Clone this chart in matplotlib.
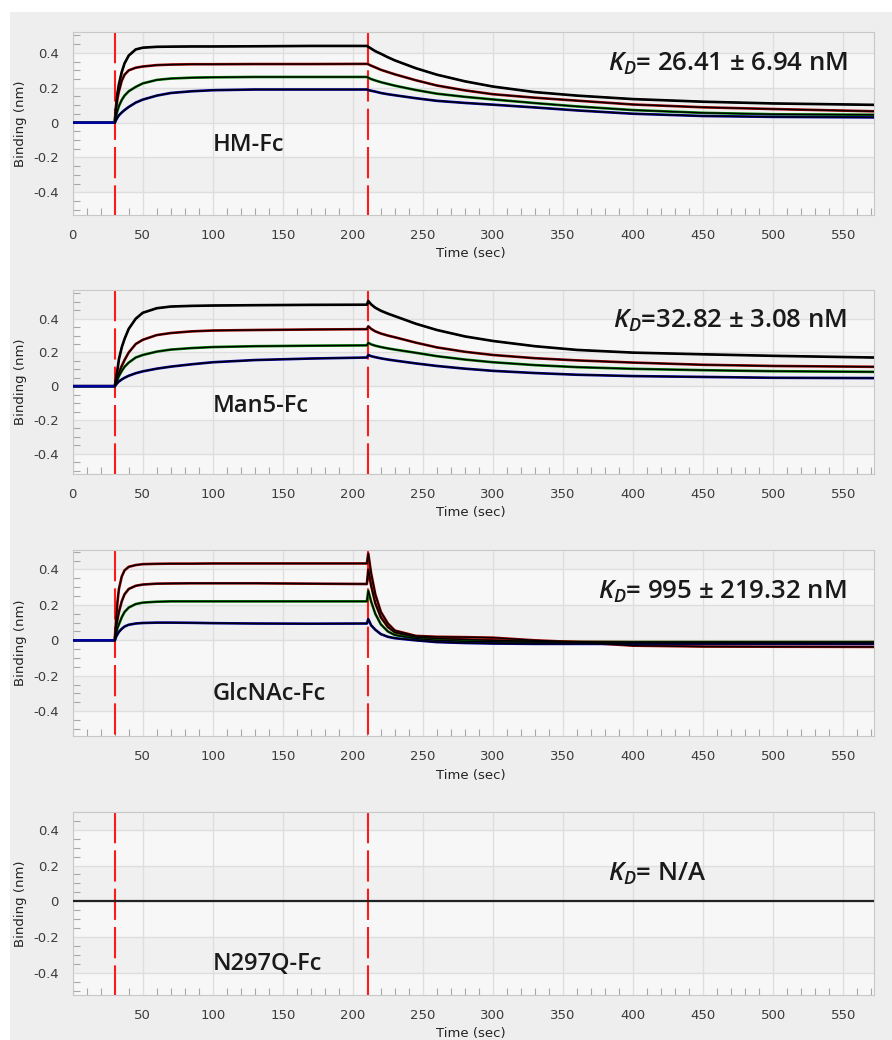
import matplotlib
matplotlib.use("Agg")
import matplotlib.pyplot as plt
from matplotlib.patches import Rectangle
from matplotlib.ticker import MultipleLocator, FixedLocator, FixedFormatter

plt.rcParams["font.family"] = ["DejaVu Sans"]
plt.rcParams["mathtext.fontset"] = "custom"
plt.rcParams["mathtext.it"] = "Open Sans:italic:semibold"
plt.rcParams["mathtext.rm"] = "Open Sans:semibold"

# Time points (sec)
time_s = [0, 30, 31, 32, 33, 35, 37, 40, 45, 50, 60, 70, 85, 100, 130, 170, 210,
          211, 213, 216, 220, 225, 230, 245, 260, 280, 300, 330, 360, 400, 450, 500, 572]

# HM-Fc binding (nm), four analyte concentrations
hm_1 = [0, 0, 0.10, 0.17, 0.22, 0.29, 0.34, 0.385, 0.42, 0.43, 0.435, 0.436, 0.437, 0.437, 0.438, 0.44, 0.44,
        0.435, 0.425, 0.41, 0.395, 0.375, 0.357, 0.312, 0.275, 0.237, 0.207, 0.175, 0.155, 0.135, 0.12, 0.11, 0.102]
hm_2 = [0, 0, 0.08, 0.14, 0.18, 0.24, 0.275, 0.30, 0.315, 0.322, 0.33, 0.333, 0.335, 0.335, 0.336, 0.336, 0.337,
        0.335, 0.327, 0.317, 0.303, 0.29, 0.277, 0.243, 0.213, 0.185, 0.163, 0.143, 0.126, 0.104, 0.088, 0.078, 0.065]
hm_3 = [0, 0, 0.04, 0.07, 0.095, 0.13, 0.155, 0.18, 0.205, 0.225, 0.245, 0.253, 0.258, 0.26, 0.262, 0.262, 0.262,
        0.258, 0.25, 0.242, 0.232, 0.222, 0.212, 0.187, 0.166, 0.148, 0.133, 0.112, 0.093, 0.072, 0.056, 0.048, 0.045]
hm_4 = [0, 0, 0.015, 0.03, 0.042, 0.058, 0.072, 0.09, 0.115, 0.132, 0.155, 0.17, 0.18, 0.186, 0.19, 0.19, 0.19,
        0.187, 0.183, 0.178, 0.17, 0.163, 0.157, 0.14, 0.125, 0.113, 0.103, 0.087, 0.07, 0.051, 0.038, 0.033, 0.03]

# Man5-Fc
man5_1 = [0, 0, 0.05, 0.10, 0.16, 0.23, 0.28, 0.34, 0.40, 0.435, 0.462, 0.472, 0.476, 0.478, 0.48, 0.482, 0.483,
          0.505, 0.485, 0.465, 0.447, 0.43, 0.415, 0.37, 0.333, 0.295, 0.268, 0.237, 0.215, 0.199, 0.189, 0.18, 0.17]
man5_2 = [0, 0, 0.03, 0.06, 0.08, 0.12, 0.155, 0.20, 0.25, 0.275, 0.303, 0.315, 0.325, 0.33, 0.333, 0.336, 0.338,
          0.355, 0.34, 0.325, 0.312, 0.30, 0.29, 0.258, 0.23, 0.204, 0.185, 0.166, 0.153, 0.14, 0.127, 0.12, 0.115]
man5_3 = [0, 0, 0.02, 0.04, 0.06, 0.09, 0.115, 0.14, 0.17, 0.185, 0.205, 0.217, 0.226, 0.232, 0.237, 0.24, 0.242,
          0.257, 0.248, 0.24, 0.232, 0.224, 0.217, 0.198, 0.178, 0.158, 0.142, 0.125, 0.113, 0.103, 0.095, 0.089, 0.085]
man5_4 = [0, 0, 0.01, 0.02, 0.028, 0.04, 0.05, 0.062, 0.077, 0.088, 0.104, 0.116, 0.13, 0.142, 0.155, 0.164, 0.17,
          0.185, 0.178, 0.172, 0.165, 0.158, 0.152, 0.135, 0.12, 0.104, 0.091, 0.078, 0.068, 0.06, 0.055, 0.05, 0.048]

# GlcNAc-Fc
glc_1 = [0, 0, 0.12, 0.22, 0.29, 0.36, 0.395, 0.415, 0.425, 0.43, 0.432, 0.433, 0.433, 0.434, 0.434, 0.434, 0.434,
         0.49, 0.38, 0.26, 0.16, 0.095, 0.055, 0.025, 0.02, 0.018, 0.015, 0.0, -0.01, -0.03, -0.035, -0.036, -0.037]
glc_2 = [0, 0, 0.07, 0.12, 0.16, 0.22, 0.26, 0.29, 0.308, 0.315, 0.32, 0.321, 0.322, 0.322, 0.322, 0.32, 0.318,
         0.40, 0.31, 0.21, 0.13, 0.075, 0.045, 0.018, 0.01, 0.005, 0.0, -0.005, -0.008, -0.01, -0.01, -0.01, -0.01]
glc_3 = [0, 0, 0.04, 0.07, 0.09, 0.13, 0.16, 0.185, 0.205, 0.213, 0.218, 0.22, 0.22, 0.22, 0.22, 0.22, 0.22,
         0.28, 0.22, 0.15, 0.09, 0.05, 0.03, 0.01, 0.0, -0.005, -0.008, -0.01, -0.01, -0.01, -0.01, -0.01, -0.01]
glc_4 = [0, 0, 0.02, 0.035, 0.048, 0.065, 0.078, 0.088, 0.095, 0.098, 0.10, 0.10, 0.099, 0.097, 0.095, 0.094, 0.095,
         0.12, 0.085, 0.06, 0.035, 0.02, 0.012, 0.0, -0.01, -0.015, -0.018, -0.02, -0.02, -0.02, -0.02, -0.02, -0.02]

# N297Q-Fc: no binding
n297q_time = [1, 572]
n297q_binding = [0.0, 0.0]

panel_names = ["HM-Fc", "Man5-Fc", "GlcNAc-Fc", "N297Q-Fc"]
kd_labels = [r"$K_D$= 26.41 ± 6.94 nM", r"$K_D$=32.82 ± 3.08 nM",
             r"$K_D$= 995 ± 219.32 nM", r"$K_D$= N/A"]
step_times = [30, 211]

panels = [
    [hm_1, hm_2, hm_3, hm_4],
    [man5_1, man5_2, man5_3, man5_4],
    [glc_1, glc_2, glc_3, glc_4],
]
curve_colors = [
    ["black", "#a00000", "#008000", "#0000a0"],
    ["black", "#a00000", "#008000", "#0000a0"],
    ["#a00000", "#8b0000", "#008000", "#0000a0"],
]

# axes layout (pixel-measured): top, bottom
boxes = [(32, 215), (290, 474), (550, 736), (812, 995)]
ylims = [(-0.53, 0.52), (-0.52, 0.57), (-0.54, 0.51), (-0.525, 0.50)]
name_pos = [(100, -0.13), (100, -0.12), (100, -0.305), (100, -0.35)]
kd_pos = [(382, 0.335), (386, 0.387), (375, 0.275), (382, 0.155)]

W, H = 892, 1040
fig = plt.figure(figsize=(W / 100, H / 100), dpi=100)
fig.patch.set_facecolor("white")
fig.patches.append(Rectangle((10 / W, 0), 1, 1 - 12 / H, transform=fig.transFigure,
                             facecolor="#eeeeee", edgecolor="none", zorder=-10))

for i, (top, bot) in enumerate(boxes):
    ax = fig.add_axes([72.7 / W, 1 - bot / H, (874 - 72.7) / W, (bot - top) / H])
    ax.set_facecolor("#f7f7f7")
    ax.set_xlim(0, 572)
    ylo, yhi = ylims[i]
    ax.set_ylim(ylo, yhi)

    # alternating bands between major gridlines
    edges = [-0.6, -0.4, -0.2, 0.0, 0.2, 0.4, 0.6]
    for k in range(len(edges) - 1):
        if k % 2 == 1:
            ax.axhspan(edges[k], edges[k + 1], color="#f0f0f0", zorder=0, lw=0)

    ax.grid(True, color="#dedede", lw=1.0, zorder=1)
    ax.set_axisbelow(True)

    if i < 2:
        xt = [0, 50, 100, 150, 200, 250, 300, 350, 400, 450, 500, 550]
    else:
        xt = [50, 100, 150, 200, 250, 300, 350, 400, 450, 500, 550]
    ax.xaxis.set_major_locator(FixedLocator(xt))
    ax.xaxis.set_major_formatter(FixedFormatter([str(v) for v in xt]))
    ax.xaxis.set_minor_locator(MultipleLocator(10))
    yt = [-0.4, -0.2, 0, 0.2, 0.4]
    ax.yaxis.set_major_locator(FixedLocator(yt))
    ax.yaxis.set_major_formatter(FixedFormatter(["-0.4", "-0.2", "0", "0.2", "0.4"]))
    ax.yaxis.set_minor_locator(MultipleLocator(0.05))
    ax.tick_params(which="major", length=0, pad=10, labelsize=9.5, labelcolor="#3c3c3c")
    ax.tick_params(which="minor", direction="in", length=5, width=0.8, color="#a8a8a8")
    for sp in ax.spines.values():
        sp.set_color("#c8c8c8")

    ax.set_ylabel("Binding (nm)", fontsize=9.5, color="#222222")
    ax.yaxis.set_label_coords(-0.057, 0.5)
    ax.set_xlabel("Time (sec)", fontsize=9.5, color="#222222")
    ax.xaxis.set_label_coords(0.497, -0.175)

    # step markers, dashed from the top down
    for st in step_times:
        ax.plot([st, st], [yhi, ylo], color="#ff1a1a", lw=1.5,
                linestyle=(0, (15, 3.4)), zorder=2)

    if i < 3:
        curves = panels[i]
        for vals, c in zip(curves, curve_colors[i]):
            ax.plot(time_s, vals, color=c, lw=1.9, zorder=3, solid_joinstyle="round")
        for vals in curves:
            ax.plot(time_s[1:], vals[1:], color="black", lw=1.0, zorder=4)
    else:
        ax.plot(n297q_time, n297q_binding, color="#222222", lw=1.6, zorder=3)

    ax.text(name_pos[i][0], name_pos[i][1], panel_names[i], fontsize=17,
            family="Open Sans", weight="semibold", color="#1a1a1a",
            ha="left", va="center", zorder=5)
    ax.text(kd_pos[i][0], kd_pos[i][1], kd_labels[i], fontsize=18.5,
            family="Open Sans", weight="semibold", color="#1a1a1a",
            ha="left", va="center", zorder=5)

fig.savefig("out.png", dpi=100)
